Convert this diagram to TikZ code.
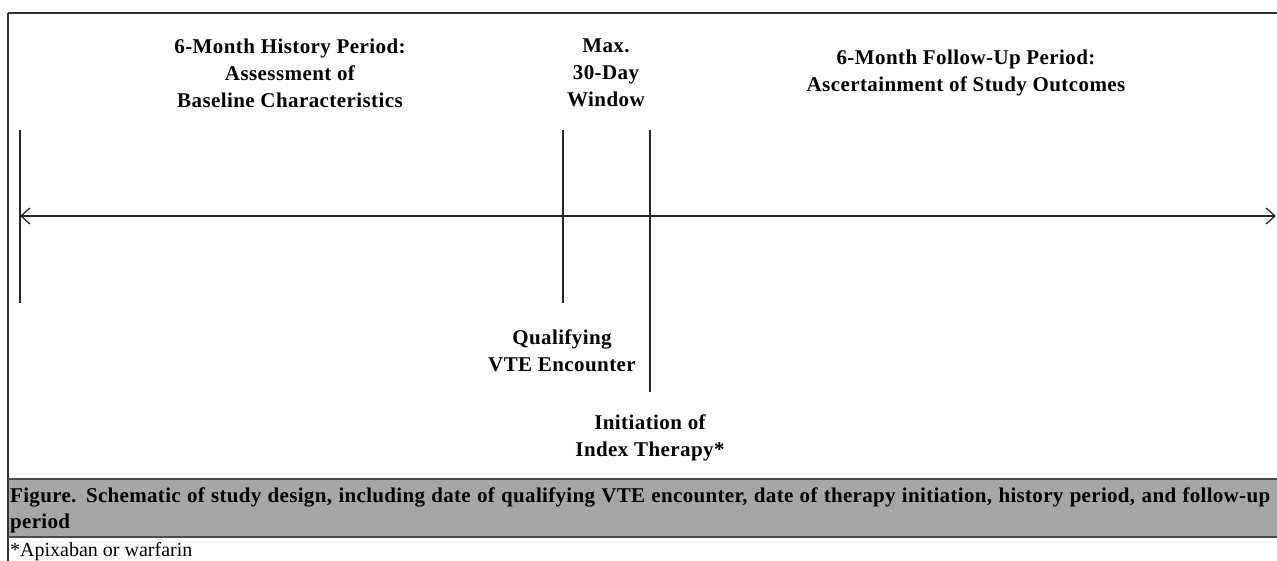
\documentclass[tikz,border=0pt]{standalone}
\usepackage{fontspec}
\setmainfont{Liberation Serif}
\usetikzlibrary{arrows.meta}

\tikzset{
  lbl/.style={align=center, font=\fontsize{21}{27}\selectfont\bfseries\addfontfeature{LetterSpace=2}, inner sep=0pt},
  tick/.style={draw, line width=1.3pt, black!85},
  capt/.style={anchor=north west, align=justify, font=\fontsize{21}{26}\selectfont\bfseries\addfontfeature{LetterSpace=1.5}, inner sep=0pt, text width=1260pt},
}

\begin{document}
\begin{tikzpicture}[x=1pt,y=-1pt]
\useasboundingbox (0,0) rectangle (1277,561);

% frame and caption band
\fill[gray!70] (8,479) rectangle (1277,537);
\draw[line width=1.3pt, black!80] (8,13) -- (1277,13);
\draw[line width=1.3pt, black!80] (8,13) -- (8,561);
\draw[line width=1.3pt, black!70] (8,479) -- (1277,479);
\draw[line width=1.3pt, black!70] (8,537) -- (1277,537);

% tick ends
\coordinate (a1) at (20,130);
\coordinate (a2) at (20,303);
\coordinate (b1) at (563,130);
\coordinate (b2) at (563,303);
\coordinate (c1) at (650,130);
\coordinate (c2) at (650,392);
\coordinate (l) at (20,216);
\coordinate (r) at (1276,216);

\path[tick] (a1) -- (a2);
\path[tick] (b1) -- (b2);
\path[tick] (c1) -- (c2);
\path[draw, line width=1.3pt, black!85, {Straight Barb[length=9pt,width=16pt]}-{Straight Barb[length=9pt,width=16pt]}] (l) -- (r);

\node[lbl] (hist) at (290,73) {6-Month History Period:\\Assessment of\\Baseline Characteristics};
\node[lbl] (win) at (606,73) {Max.\\30-Day\\Window};
\node[lbl] (fup) at (966,73) {6-Month Follow-Up Period:\\Ascertainment of Study Outcomes};
\node[lbl] (qual) at (562,351) {Qualifying\\VTE Encounter};
\node[lbl] (init) at (650,438) {Initiation of\\Index Therapy*};

\node[capt] (cap) at (10,488) {Figure. Schematic of study design, including date of qualifying VTE encounter, date of therapy initiation, history period, and follow-up\linebreak period};
\node[anchor=base west, inner sep=0pt, font=\fontsize{20}{24}\selectfont] (note) at (10,556) {*Apixaban or warfarin};
\end{tikzpicture}
\end{document}
